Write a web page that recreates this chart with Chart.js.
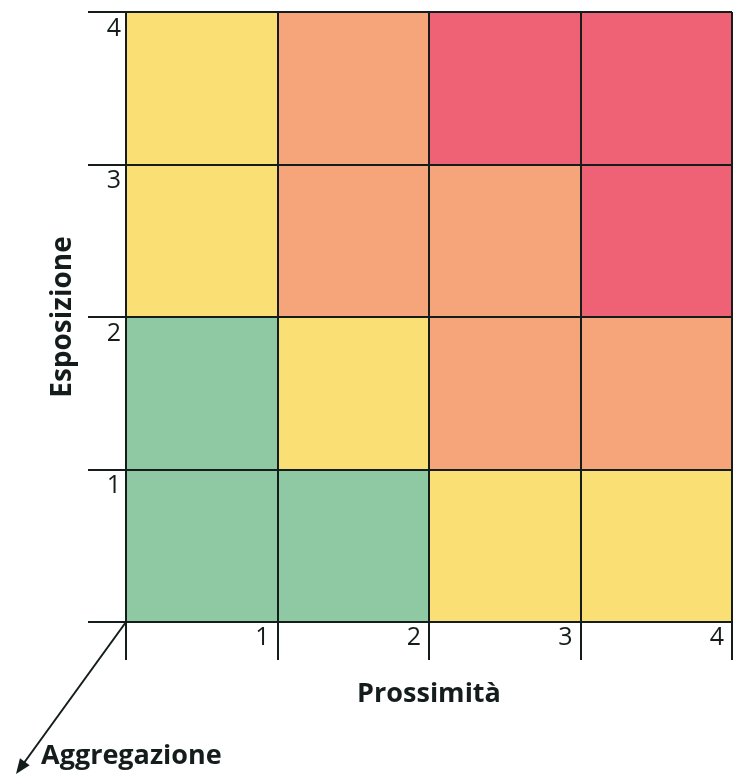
<!DOCTYPE html>
<html><head><meta charset="utf-8">
<script src="https://cdn.jsdelivr.net/npm/chart.js@4/dist/chart.umd.min.js"></script>
<style>html,body{margin:0;padding:0;background:#fff}#wrap{width:733px;height:779px;position:relative}</style>
</head><body><div id="wrap"><canvas id="c"></canvas></div>
<script>
// ---- data ----
const prossimita = [1, 2, 3, 4];          // columns (x)
const esposizione = [1, 2, 3, 4];         // rows (y)
const xTickLabels = ['', '1', '2', '3', '4'];
const yTickLabels = ['', '1', '2', '3', '4'];
// risk level per cell: rows = esposizione 1..4, columns = prossimita 1..4
const riskRow1 = [0, 0, 1, 1];
const riskRow2 = [0, 1, 2, 2];
const riskRow3 = [1, 2, 2, 3];
const riskRow4 = [1, 2, 3, 3];
const riskRows = [riskRow1, riskRow2, riskRow3, riskRow4];
const xTitle = 'Prossimità';
const yTitle = 'Esposizione';
const zTitle = 'Aggregazione';

// ---- styles ----
const levelColors = ['#8fc9a4', '#fadf74', '#f6a57a', '#ef6275'];
const ink = '#141c1c';
const FONT = '"Open Sans", Lato, sans-serif';

const datasets = esposizione.map((e, r) => ({
  label: yTitle + ' ' + e,
  data: prossimita.map(p => ({ x: p - 0.5, y: [e - 1, e] })),
  backgroundColor: riskRows[r].map(l => levelColors[l]),
  borderWidth: 0,
  grouped: false,
  barPercentage: 1,
  categoryPercentage: 1
}));

const decor = {
  id: 'decor',
  afterDraw(chart) {
    const ctx = chart.ctx;
    const xs = chart.scales.x, ys = chart.scales.y;
    const ox = xs.getPixelForValue(0), oy = ys.getPixelForValue(0);
    ctx.save();
    // depth axis arrow
    const tx = ox - 110, ty = oy + 152;
    ctx.strokeStyle = ink; ctx.fillStyle = ink; ctx.lineWidth = 2;
    ctx.beginPath(); ctx.moveTo(ox, oy); ctx.lineTo(tx + 5, ty - 7); ctx.stroke();
    const ang = Math.atan2(ty - oy, tx - ox);
    const L = 15, W = 6;
    ctx.beginPath();
    ctx.moveTo(tx, ty);
    ctx.lineTo(tx - L * Math.cos(ang) + W * Math.sin(ang), ty - L * Math.sin(ang) - W * Math.cos(ang));
    ctx.lineTo(tx - L * Math.cos(ang) - W * Math.sin(ang), ty - L * Math.sin(ang) + W * Math.cos(ang));
    ctx.closePath(); ctx.fill();
    // depth axis title
    ctx.font = 'bold 27px ' + FONT;
    ctx.textBaseline = 'alphabetic';
    ctx.textAlign = 'left';
    ctx.fillText(zTitle, 41, 764);
    ctx.restore();
  }
};

const gridOpts = { color: ink, lineWidth: 2, drawTicks: true, tickLength: 38, tickColor: ink, offset: false, z: 1 };

new Chart(document.getElementById('c'), {
  type: 'bar',
  data: { datasets },
  options: {
    responsive: true,
    maintainAspectRatio: false,
    animation: false,
    layout: { padding: { top: 12, right: 1, left: 0, bottom: 0 } },
    plugins: { legend: { display: false }, tooltip: { enabled: false } },
    scales: {
      x: {
        type: 'linear', min: 0, max: 4, offset: false, z: 1,
        afterFit(s) { s.height = 157; },
        afterBuildTicks(s) { s.ticks = [0, 1, 2, 3, 4].map(v => ({ value: v })); },
        grid: gridOpts,
        border: { display: false },
        title: {
          display: true, text: xTitle, color: ink,
          font: { family: FONT, size: 27, weight: 'bold' },
          padding: { top: 0, bottom: 68 }
        },
        ticks: {
          stepSize: 1, align: 'end', padding: -37, labelOffset: -8,
          color: ink, font: { family: FONT, size: 25 },
          callback: (v) => xTickLabels[v] ?? ''
        }
      },
      y: {
        type: 'linear', min: 0, max: 4, z: 1,
        afterFit(s) { s.width = 126; },
        afterBuildTicks(s) { s.ticks = [0, 1, 2, 3, 4].map(v => ({ value: v })); },
        grid: gridOpts,
        border: { display: false },
        title: {
          display: true, text: yTitle, color: ink,
          font: { family: FONT, size: 28, weight: 'bold' },
          padding: { top: 46, bottom: 0 }
        },
        ticks: {
          stepSize: 1, align: 'start', padding: -33, labelOffset: 4,
          color: ink, font: { family: FONT, size: 25 },
          callback: (v) => yTickLabels[v] ?? ''
        }
      }
    }
  },
  plugins: [decor]
});
</script>
</body></html>
